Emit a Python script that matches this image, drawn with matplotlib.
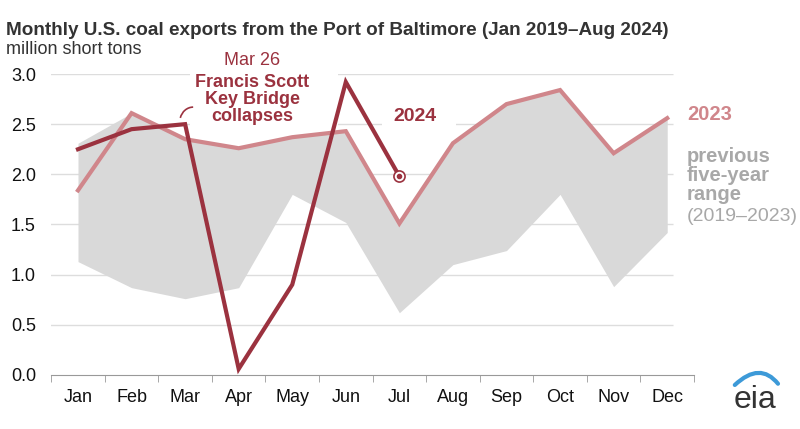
import matplotlib
matplotlib.use("Agg")
import matplotlib.pyplot as plt
from matplotlib.patches import Arc, Rectangle, PathPatch
from matplotlib.path import Path
import numpy as np

# 월별 값 (million short tons)
months = ["Jan", "Feb", "Mar", "Apr", "May", "Jun", "Jul", "Aug", "Sep", "Oct", "Nov", "Dec"]
y2024 = [2.25, 2.45, 2.50, 0.06, 0.90, 2.92, 1.98]
y2023 = [1.84, 2.61, 2.35, 2.26, 2.37, 2.43, 1.51, 2.31, 2.70, 2.84, 2.21, 2.56]
range_hi = [2.31, 2.61, 2.37, 2.26, 2.37, 2.43, 1.51, 2.31, 2.70, 2.84, 2.21, 2.56]
range_lo = [1.13, 0.87, 0.76, 0.87, 1.80, 1.52, 0.62, 1.10, 1.24, 1.80, 0.88, 1.42]
yticks = [0.0, 0.5, 1.0, 1.5, 2.0, 2.5, 3.0]

plt.rcParams['font.family'] = ['Liberation Sans', 'DejaVu Sans']

C24 = "#9b323f"
C23 = "#d0868b"
CFILL = "#d9d9d9"
CTXT = "#333333"
CGRAY = "#a8a8a8"

fig = plt.figure(figsize=(8, 4.29), dpi=100)
ax = fig.add_axes([0.064, 0.126, 0.8035, 0.7015])

x = np.arange(len(months))

# gridlines
ax.hlines(yticks[1:], -0.53, 11.1, color="#dddddd", lw=1, zorder=0)
# 라벨 뒤 흰 배경 (gridline 가림)
ax.add_patch(Rectangle((2.1, 2.45), 2.75, 0.7, fc="white", ec="none", zorder=0.5, clip_on=False))
ax.add_patch(Rectangle((5.68, 2.45), 1.38, 0.3, fc="white", ec="none", zorder=0.5))

ax.fill_between(x, range_lo, range_hi, color=CFILL, lw=0, zorder=1)
ax.plot(x, y2023, color=C23, lw=3, zorder=2, solid_joinstyle="miter")
ax.plot(np.arange(len(y2024)), y2024, color=C24, lw=3, zorder=3, clip_on=False, solid_joinstyle="miter")

# 마지막 점 표시
ax.plot(len(y2024) - 1, y2024[-1], "o", ms=8, mfc="white", mec=C24, mew=1.2, zorder=4)
ax.plot(len(y2024) - 1, y2024[-1], "o", ms=3, color=C24, zorder=5)

ax.set_xlim(-0.5, 11.5)
ax.set_ylim(0, 3.0)
ax.set_yticks(yticks)
ax.set_yticklabels([f"{v:.1f}" for v in yticks], fontsize=13, color="#111111")
ax.set_xticks(x)
ax.set_xticklabels(months, fontsize=13, color="#111111")
ax.set_xticks(np.arange(-0.5, 12, 1), minor=True)
ax.tick_params(axis="x", which="major", length=0, pad=10)
ax.tick_params(axis="x", which="minor", length=5, color="#999999")
ax.tick_params(axis="y", length=0, pad=11)
for s in ["top", "right", "left"]:
    ax.spines[s].set_visible(False)
ax.spines["bottom"].set_color("#999999")

# 제목
fig.text(0.008, 0.93, "Monthly U.S. coal exports from the Port of Baltimore (Jan 2019\u2013Aug 2024)",
         fontsize=13.6, fontweight="bold", color=CTXT, va="center")
fig.text(0.008, 0.885, "million short tons", fontsize=13, color=CTXT, va="center")

# 주석
ax.text(3.25, 3.13, "Mar 26", ha="center", va="center", fontsize=13, color=C24, zorder=6)
ax.text(3.25, 2.745, "Francis Scott\nKey Bridge\ncollapses", ha="center", va="center",
        fontsize=13, fontweight="bold", color=C24, linespacing=1.02, zorder=6)
ax.add_patch(Arc((2.15, 2.52), 0.5, 0.3, theta1=90, theta2=170, color=C24, lw=1.2, zorder=6))

ax.text(6.29, 2.58, "2024", ha="center", va="center", fontsize=14, fontweight="bold", color=C24,
        zorder=6)
ax.text(11.37, 2.6, "2023", ha="left", va="center", fontsize=14.5, fontweight="bold", color=C23,
        clip_on=False)
ax.text(11.37, 1.99, "previous\nfive-year\nrange", ha="left", va="center", fontsize=14.5,
        fontweight="bold", color=CGRAY, linespacing=1.0, clip_on=False)
ax.text(11.37, 1.58, "(2019\u20132023)", ha="left", va="center", fontsize=14, color=CGRAY,
        clip_on=False)

# eia 로고
fig.text(0.944, 0.068, "eia", fontsize=23, color="#333333", ha="center", va="center")
logo = fig.add_axes([0.9125, 0.091, 0.075, 0.058])
logo.axis("off")
logo.set_xlim(0, 1)
logo.set_ylim(0, 1)
swoosh = Path([(0.08, 0.2), (0.5, 1.15), (0.8, 0.25)], [Path.MOVETO, Path.CURVE3, Path.CURVE3])
logo.add_patch(PathPatch(swoosh, fc="none", ec="#3d9ad8", lw=3, capstyle="round"))

fig.savefig("out.png", dpi=100)
